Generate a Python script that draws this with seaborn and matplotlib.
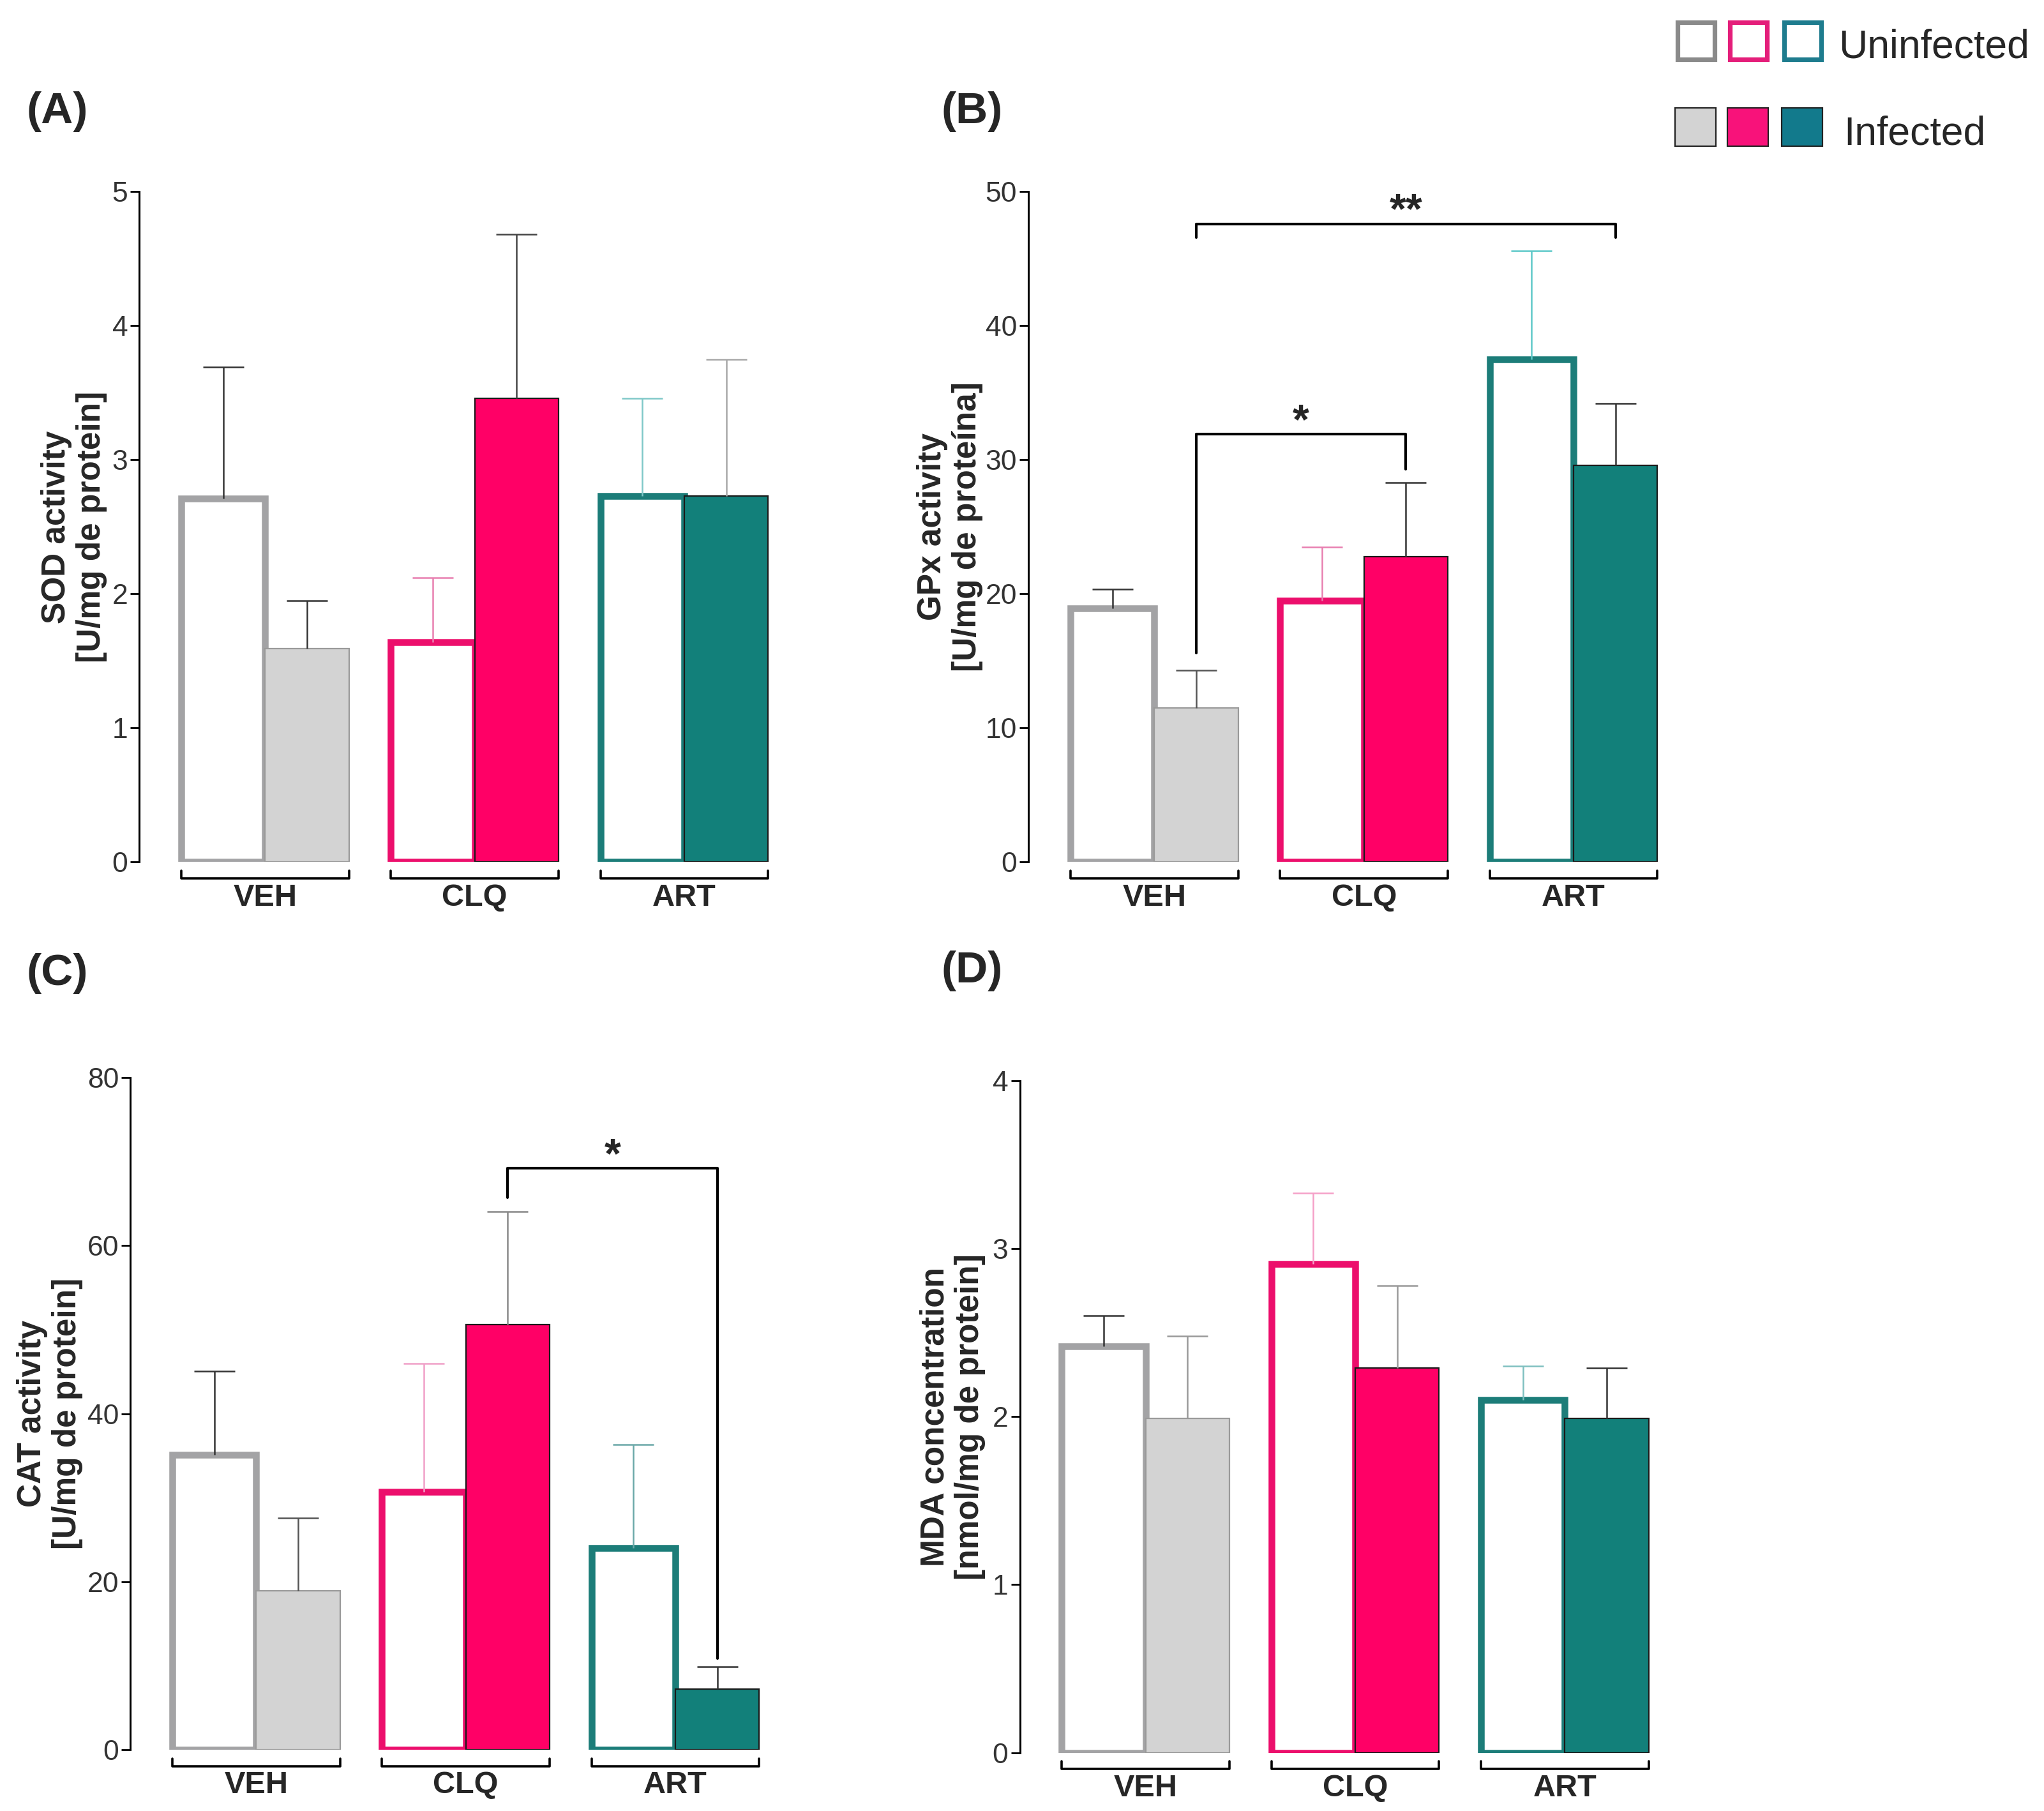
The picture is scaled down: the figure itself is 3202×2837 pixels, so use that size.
import matplotlib
matplotlib.use("Agg")
import numpy as np
import pandas as pd
import matplotlib.pyplot as plt
import seaborn as sns
from matplotlib.patches import Rectangle
from matplotlib.container import BarContainer

# ==========================
# Data: mean and upper error per group
# ==========================
GROUPS = ["VEH", "CLQ", "ART"]
STATUS = ["Uninfected", "Infected"]

SOD_UNINF = [2.71, 1.64, 2.73]
SOD_UNINF_ERR = [0.98, 0.48, 0.73]
SOD_INF = [1.59, 3.46, 2.73]
SOD_INF_ERR = [0.36, 1.22, 1.02]

GPX_UNINF = [18.9, 19.5, 37.5]
GPX_UNINF_ERR = [1.45, 4.0, 8.1]
GPX_INF = [11.5, 22.8, 29.6]
GPX_INF_ERR = [2.8, 5.5, 4.6]

CAT_UNINF = [35.1, 30.7, 24.0]
CAT_UNINF_ERR = [10.0, 15.3, 12.35]
CAT_INF = [18.9, 50.6, 7.2]
CAT_INF_ERR = [8.7, 13.45, 2.7]

MDA_UNINF = [2.42, 2.91, 2.10]
MDA_UNINF_ERR = [0.18, 0.42, 0.20]
MDA_INF = [1.99, 2.29, 1.99]
MDA_INF_ERR = [0.49, 0.49, 0.30]

# significance brackets: (from group, to group, left leg bottom, top, right leg bottom, mark)
SIG_GPX = [("VEH", "CLQ", 15.6, 31.9, 29.3, "*"),
           ("VEH", "ART", 46.6, 47.6, 46.6, "**")]
SIG_CAT = [("CLQ", "ART", 65.7, 69.2, 10.9, "*")]

# ==========================
# Style
# ==========================
sns.set_style("white")
plt.rcParams["font.family"] = ["Liberation Sans", "DejaVu Sans"]

EDGE_U = {"VEH": "#A3A3A5", "CLQ": "#EC0F6C", "ART": "#1C7D79"}
FILL_I = {"VEH": "#D3D3D3", "CLQ": "#FF0066", "ART": "#12807A"}
EDGE_I = {"VEH": "#9A9A9A", "CLQ": "#1A1A1A", "ART": "#1A1A1A"}

W, H = 3202, 2837
DPI = 200


def draw_panel(ax, uninf, uninf_err, inf, inf_err, ymax, ystep, ylabel,
               label_x, err_colors, sigs=()):
    df = pd.DataFrame({
        "group": GROUPS * 2,
        "status": ["Uninfected"] * 3 + ["Infected"] * 3,
        "value": list(uninf) + list(inf),
        "err": list(uninf_err) + list(inf_err),
    })
    sns.barplot(data=df, x="group", y="value", hue="status", order=GROUPS,
                hue_order=STATUS, errorbar=None, width=0.8, ax=ax, legend=False)

    errs = {(g, s): e for g, s, e in zip(df["group"], df["status"], df["err"])}
    bar_conts = [c for c in ax.containers if isinstance(c, BarContainer)]
    centers = {}
    for s_idx, cont in enumerate(bar_conts):
        status = STATUS[s_idx]
        for bar in cont:
            cx = bar.get_x() + bar.get_width() / 2
            g = GROUPS[int(round(cx))]
            h = bar.get_height()
            centers[(g, status)] = cx
            if status == "Uninfected":
                bar.set_facecolor("white")
                bar.set_edgecolor(EDGE_U[g])
                bar.set_linewidth(3.8)
            else:
                bar.set_facecolor(FILL_I[g])
                bar.set_edgecolor(EDGE_I[g])
                bar.set_linewidth(0.8)
            c = err_colors[GROUPS.index(g) * 2 + s_idx]
            eb = ax.errorbar(cx, h, yerr=[[0], [errs[(g, status)]]], fmt="none",
                             ecolor=c, elinewidth=0.9, capsize=11.5,
                             capthick=0.9, zorder=3)
            # keep only the upper cap
            for cap in eb[1]:
                if np.isclose(cap.get_ydata()[0], h):
                    cap.set_visible(False)

    # significance brackets
    for g0, g1, y0, ytop, y1, mark in sigs:
        x0 = centers[(g0, "Infected")]
        x1 = centers[(g1, "Infected")]
        ax.plot([x0, x0, x1, x1], [y0, ytop, ytop, y1], color="black",
                lw=1.5, clip_on=False, zorder=4)
        ax.annotate(mark, xy=((x0 + x1) / 2, ytop), xytext=(0, 0.5),
                    textcoords="offset points", ha="center", va="baseline",
                    fontsize=24, fontweight="bold", annotation_clip=False)

    # group brackets under the x axis
    trans = ax.get_xaxis_transform()
    for i in range(len(GROUPS)):
        xa, xb = i - 0.4, i + 0.4
        ax.plot([xa, xa, xb, xb], [-0.013, -0.0245, -0.0245, -0.013],
                transform=trans, color="black", lw=1.3, clip_on=False)

    ax.set_xlim(-0.6, 2.45)
    ax.set_ylim(0, ymax)
    ax.set_yticks(np.arange(0, ymax + ystep / 2, ystep))
    ax.set_xlabel("")
    ax.set_ylabel(ylabel, fontsize=18.5, fontweight="bold", va="center",
                  linespacing=1.15)
    ax.yaxis.set_label_coords(label_x, 0.5)

    sns.despine(ax=ax, bottom=True)
    ax.spines["left"].set_color("black")
    ax.spines["left"].set_linewidth(1.1)
    ax.tick_params(axis="y", length=5, width=1.0, direction="out", pad=1.5,
                   labelsize=16, labelcolor="#333333", color="black", left=True)
    ax.tick_params(axis="x", length=0, pad=12, labelsize=17.5)
    for t in ax.get_xticklabels():
        t.set_fontweight("bold")
    ax.set_facecolor("white")


fig = plt.figure(figsize=(W / DPI, H / DPI), dpi=DPI)
fig.patch.set_facecolor("white")


def axes_from_px(left, top, bottom, width=1001.6):
    return fig.add_axes([left / W, 1 - bottom / H, width / W, (bottom - top) / H])


ax_a = axes_from_px(218.2, 300.2, 1350.4)
ax_b = axes_from_px(1611.3, 300.2, 1350.4)
ax_c = axes_from_px(204.2, 1688.3, 2741.0)
ax_d = axes_from_px(1597.5, 1692.7, 2745.5)

draw_panel(ax_a, SOD_UNINF, SOD_UNINF_ERR, SOD_INF, SOD_INF_ERR, 5, 1,
           "SOD activity\n[U/mg de protein]", -0.102,
           ["#333333", "#333333", "#E87FB0", "#444444", "#7FC8C8", "#A8A8A8"])
draw_panel(ax_b, GPX_UNINF, GPX_UNINF_ERR, GPX_INF, GPX_INF_ERR, 50, 10,
           "GPx activity\n[U/mg de proteína]", -0.123,
           ["#333333", "#555555", "#E87FB0", "#333333", "#5CC8C8", "#333333"],
           SIG_GPX)
draw_panel(ax_c, CAT_UNINF, CAT_UNINF_ERR, CAT_INF, CAT_INF_ERR, 80, 20,
           "CAT activity\n[U/mg de protein]", -0.126,
           ["#333333", "#555555", "#F0A0C8", "#888888", "#6AA8A8", "#333333"],
           SIG_CAT)
draw_panel(ax_d, MDA_UNINF, MDA_UNINF_ERR, MDA_INF, MDA_INF_ERR, 4, 1,
           "MDA concentration\n[nmol/mg de protein]", -0.105,
           ["#333333", "#999999", "#F5A0C8", "#999999", "#7FC0C0", "#333333"])

# ==========================
# Overlay: panel letters and legend (pixel coordinates)
# ==========================
lax = fig.add_axes([0, 0, 1, 1])
lax.set_xlim(0, W)
lax.set_ylim(H, 0)
lax.axis("off")

for letter, x, y in [("(A)", 41.7, 175), ("(B)", 1475, 175),
                     ("(C)", 41.7, 1525), ("(D)", 1475, 1521)]:
    lax.text(x, y, letter, fontsize=25, fontweight="bold", ha="left", va="center")

LEG_U_EDGE = ["#8A8A8A", "#E41E7A", "#1E7C8E"]
LEG_I_FILL = ["#D3D3D3", "#F8127A", "#127A8C"]
box_x = [2623, 2705, 2790]
box_w = 68
for bx, ec in zip(box_x, LEG_U_EDGE):
    lax.add_patch(Rectangle((bx + 5, 35), box_w - 10, 58, facecolor="white",
                            edgecolor=ec, linewidth=2.6))
for bx, fc in zip(box_x, LEG_I_FILL):
    lax.add_patch(Rectangle((bx + 1, 169), box_w - 4, 60, facecolor=fc,
                            edgecolor="#222222", linewidth=0.8))
lax.text(2880, 74, "Uninfected", fontsize=22.5, ha="left", va="center")
lax.text(2888, 210, "Infected", fontsize=22.5, ha="left", va="center")

fig.savefig("out.png", dpi=DPI, facecolor="white")
